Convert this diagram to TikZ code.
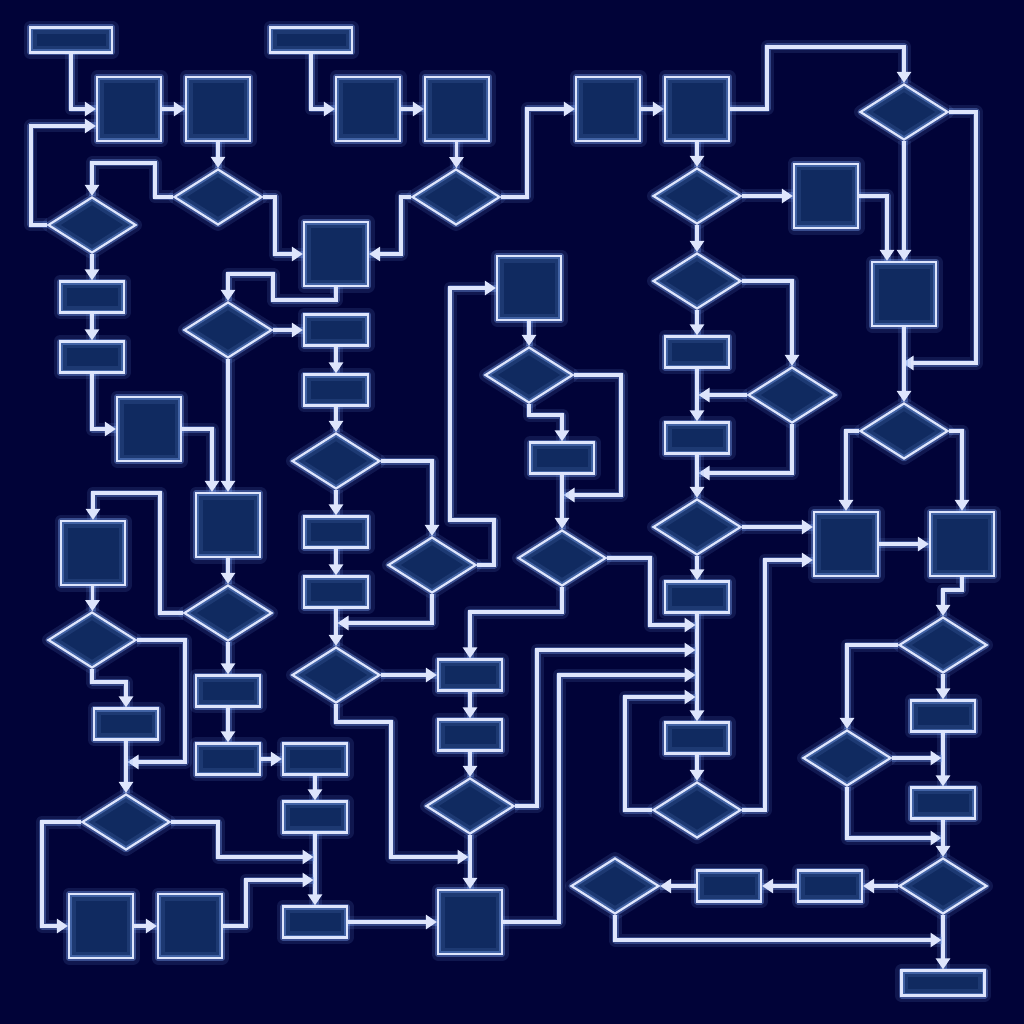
\documentclass[tikz,border=0pt]{standalone}
\usetikzlibrary{shapes.geometric,arrows.meta}
\definecolor{bgc}{RGB}{1,3,56}
\definecolor{nodec}{RGB}{16,42,96}
\definecolor{linec}{RGB}{222,229,252}
\definecolor{glowc}{RGB}{120,160,240}
\begin{document}
\begin{tikzpicture}[x=1pt,y=-1pt,>={Triangle[length=11pt,width=14pt]},
  nd/.style={preaction={fill=nodec},
             preaction={draw=glowc,line width=13pt,opacity=.13,line join=round},
             preaction={draw=glowc,line width=6pt,opacity=.4,line join=round},
             draw=linec,line width=2.2pt,inner sep=0pt},
  sq/.style={nd,minimum width=64pt,minimum height=64pt},
  bar/.style={nd,minimum width=64pt,minimum height=31pt},
  wbar/.style={nd,minimum width=82pt,minimum height=25pt},
  dia/.style={nd,diamond,minimum width=88pt,minimum height=56pt},
  arr/.style={draw=linec,line width=3.2pt,->,
              preaction={draw=glowc,line width=13pt,opacity=.13,line join=round,-},
              preaction={draw=glowc,line width=7pt,opacity=.35,line join=round,-}}]
 \path[fill=bgc,use as bounding box] (0,0) rectangle (1024,1024);
 % squares
 \node[sq] (s1) at (129,109) {};
 \node[sq] (s2) at (218,109) {};
 \node[sq] (s3) at (368,109) {};
 \node[sq] (s4) at (457,109) {};
 \node[sq] (s5) at (608,109) {};
 \node[sq] (s6) at (697,109) {};
 \node[sq] (s7) at (336,254) {};
 \node[sq] (s8) at (826,196) {};
 \node[sq] (s9) at (904,294) {};
 \node[sq] (s10) at (529,288) {};
 \node[sq] (s11) at (149,429) {};
 \node[sq] (s12) at (228,525) {};
 \node[sq] (s13) at (846,544) {};
 \node[sq] (s14) at (962,544) {};
 \node[sq] (s15) at (93,553) {};
 \node[sq] (s16) at (470,922) {};
 \node[sq] (s17) at (101,926) {};
 \node[sq] (s18) at (190,926) {};
 % bars
 \node[wbar] (t1) at (71,40) {};
 \node[wbar] (t2) at (311,40) {};
 \node[wbar,minimum width=83pt] (t3) at (943,983) {};
 \node[bar] (r1) at (92,297) {};
 \node[bar] (r2) at (92,357) {};
 \node[bar] (r3) at (336,330) {};
 \node[bar] (r4) at (336,390) {};
 \node[bar] (r5) at (336,532) {};
 \node[bar] (r6) at (336,592) {};
 \node[bar] (r7) at (562,458) {};
 \node[bar] (r8) at (470,675) {};
 \node[bar] (r9) at (470,735) {};
 \node[bar] (r10) at (697,352) {};
 \node[bar] (r11) at (697,438) {};
 \node[bar] (r12) at (697,597) {};
 \node[bar] (r13) at (697,738) {};
 \node[bar] (r14) at (943,716) {};
 \node[bar] (r15) at (943,803) {};
 \node[bar] (r16) at (830,886) {};
 \node[bar] (r17) at (729,886) {};
 \node[bar] (r18) at (126,724) {};
 \node[bar] (r19) at (228,691) {};
 \node[bar] (r20) at (228,759) {};
 \node[bar] (r21) at (315,759) {};
 \node[bar] (r22) at (315,817) {};
 \node[bar] (r23) at (315,922) {};
 % diamonds
 \node[dia] (d1) at (92,225) {};
 \node[dia] (d2) at (218,197) {};
 \node[dia] (d3) at (456,197) {};
 \node[dia] (d4) at (904,112) {};
 \node[dia] (d5) at (697,196) {};
 \node[dia] (d6) at (697,281) {};
 \node[dia] (d7) at (792,395) {};
 \node[dia] (d8) at (904,431) {};
 \node[dia] (d9) at (228,330) {};
 \node[dia] (d10) at (336,461) {};
 \node[dia] (d11) at (432,565) {};
 \node[dia] (d12) at (529,375) {};
 \node[dia] (d13) at (562,558) {};
 \node[dia] (d14) at (697,527) {};
 \node[dia] (d15) at (336,675) {};
 \node[dia] (d16) at (470,806) {};
 \node[dia] (d17) at (697,810) {};
 \node[dia] (d18) at (943,645) {};
 \node[dia] (d19) at (847,758) {};
 \node[dia] (d20) at (943,886) {};
 \node[dia] (d21) at (615,886) {};
 \node[dia] (d22) at (228,613) {};
 \node[dia] (d23) at (92,640) {};
 \node[dia] (d24) at (126,822) {};
 % joins on lines
 \coordinate (ja) at (902.5,363); \coordinate (jb) at (698.5,395);
 \coordinate (jc) at (698.5,473);
 \coordinate (je1) at (695.5,625); \coordinate (je2) at (695.5,650);
 \coordinate (je3) at (695.5,675); \coordinate (je4) at (695.5,697);
 \coordinate (jf1) at (941.5,758); \coordinate (jf2) at (941.5,838);
 \coordinate (jg) at (941.5,940); \coordinate (jh) at (337.5,623);
 \coordinate (ji) at (563.5,495); \coordinate (jj) at (468.5,857);
 \coordinate (jk) at (127.5,762);
 \coordinate (jl1) at (313.5,857); \coordinate (jl2) at (313.5,880);
 % top rows
 \draw[arr] (t1.south) |- (s1.west); \draw[arr] (s1) -- (s2);
 \draw[arr] (d1.west) -- ++(-16,0) |- ([yshift=-17pt]s1.west);
 \draw[arr] (s2) -- (d2);
 \draw[arr] (d2.west) -- (155,197) |- (92,163) -- (d1.north);
 \draw[arr] (d2.east) -- (275,197) |- (s7.west);
 \draw[arr] (t2.south) |- (s3.west); \draw[arr] (s3) -- (s4);
 \draw[arr] (s4) -- (d3);
 \draw[arr] (d3.west) -- (401,197) |- (s7.east);
 \draw[arr] (d3.east) -- (527,197) |- (s5.west);
 \draw[arr] (s5) -- (s6);
 \draw[arr] (s6.east) -- (767,109) -- (767,47) -| (d4.north);
 \draw[arr] (s6) -- (d5); \draw[arr] (d5) -- (s8);
 \draw[arr] (s8.east) -| ([xshift=-17pt]s9.north);
 \draw[arr] (d4) -- (s9);
 \draw[arr] (d4.east) -| (976,363) -- (ja);
 \draw[arr] (s9) -- (d8);
 % right middle
 \draw[arr] (d5) -- (d6);
 \draw[arr] (d6.east) -| (d7.north);
 \draw[arr] (d6) -- (r10); \draw[arr] (r10) -- (r11);
 \draw[arr] (d7.west) -- (jb);
 \draw[arr] (d7.south) |- (jc);
 \draw[arr] (r11) -- (d14);
 \draw[arr] (d14.east) -- (d14.east -| s13.west);
 \draw[arr] (d8.west) -| (s13.north);
 \draw[arr] (d8.east) -| (s14.north);
 \draw[arr] (s13) -- (s14);
 \draw[arr] (d14) -- (r12); \draw[arr] (r12) -- (r13);
 \draw[arr] (r13) -- (d17);
 \draw[arr] (d17.west) -- (625,810) |- (je4);
 \draw[arr] (d17.east) -- (765,810) |- ([yshift=-16pt]s13.west);
 % right bottom
 \draw[arr] (s14.south) -- (962,590) -| (d18.north);
 \draw[arr] (d18.west) -| (d19.north);
 \draw[arr] (d18) -- (r14); \draw[arr] (r14) -- (r15);
 \draw[arr] (d19.east) -- (jf1);
 \draw[arr] (d19.south) |- (jf2);
 \draw[arr] (r15) -- (d20); \draw[arr] (d20) -- (t3);
 \draw[arr] (d20) -- (r16); \draw[arr] (r16) -- (r17);
 \draw[arr] (r17) -- (d21);
 \draw[arr] (d21.south) |- (jg);
 % left column
 \draw[arr] (d1) -- (r1); \draw[arr] (r1) -- (r2);
 \draw[arr] (r2.south) |- (s11.west);
 \draw[arr] (s11.east) -| ([xshift=-16pt]s12.north);
 \draw[arr] (s7.south) -- (336,300) -| (273,274) -| (d9.north);
 \draw[arr] (d9) -- (s12);
 \draw[arr] (d9) -- (r3); \draw[arr] (r3) -- (r4);
 \draw[arr] (r4) -- (d10); \draw[arr] (d10) -- (r5);
 \draw[arr] (r5) -- (r6); \draw[arr] (r6) -- (d15);
 \draw[arr] (d10.east) -| (d11.north);
 \draw[arr] (d11.south) |- (jh);
 \draw[arr] (d11.east) -| (494,520) -| (450,288) -- (s10.west);
 % centre
 \draw[arr] (s10) -- (d12);
 \draw[arr] (d12.south) -- (529,415) -| (r7.north);
 \draw[arr] (d12.east) -| (621,495) -- (ji);
 \draw[arr] (r7) -- (d13);
 \draw[arr] (d13.south) -- (562,612) -| (r8.north);
 \draw[arr] (d13.east) -| (650,625) -- (je1);
 \draw[arr] (d15) -- (r8); \draw[arr] (r8) -- (r9);
 \draw[arr] (r9) -- (d16); \draw[arr] (d16) -- (s16);
 \draw[arr] (d16.east) -| (537,650) -- (je2);
 \draw[arr] (s16.east) -| (559,675) -- (je3);
 \draw[arr] (d15.south) -- (336,722) -| (391,857) -- (jj);
 \draw[arr] (r23) -- (s16);
 % bottom left
 \draw[arr] (s12) -- (d22);
 \draw[arr] (d22.west) -| (160,493) -| (s15.north);
 \draw[arr] (s15) -- (d23);
 \draw[arr] (d23.east) -| (185,762) -- (jk);
 \draw[arr] (d23.south) -- (92,682) -| (r18.north);
 \draw[arr] (r18) -- (d24);
 \draw[arr] (d22) -- (r19); \draw[arr] (r19) -- (r20);
 \draw[arr] (r20) -- (r21); \draw[arr] (r21) -- (r22);
 \draw[arr] (r22) -- (r23);
 \draw[arr] (d24.east) -| (218,857) -- (jl1);
 \draw[arr] (d24.west) -- (42,822) |- (s17.west);
 \draw[arr] (s17) -- (s18);
 \draw[arr] (s18.east) -- (246,926) |- (jl2);
\end{tikzpicture}
\end{document}
